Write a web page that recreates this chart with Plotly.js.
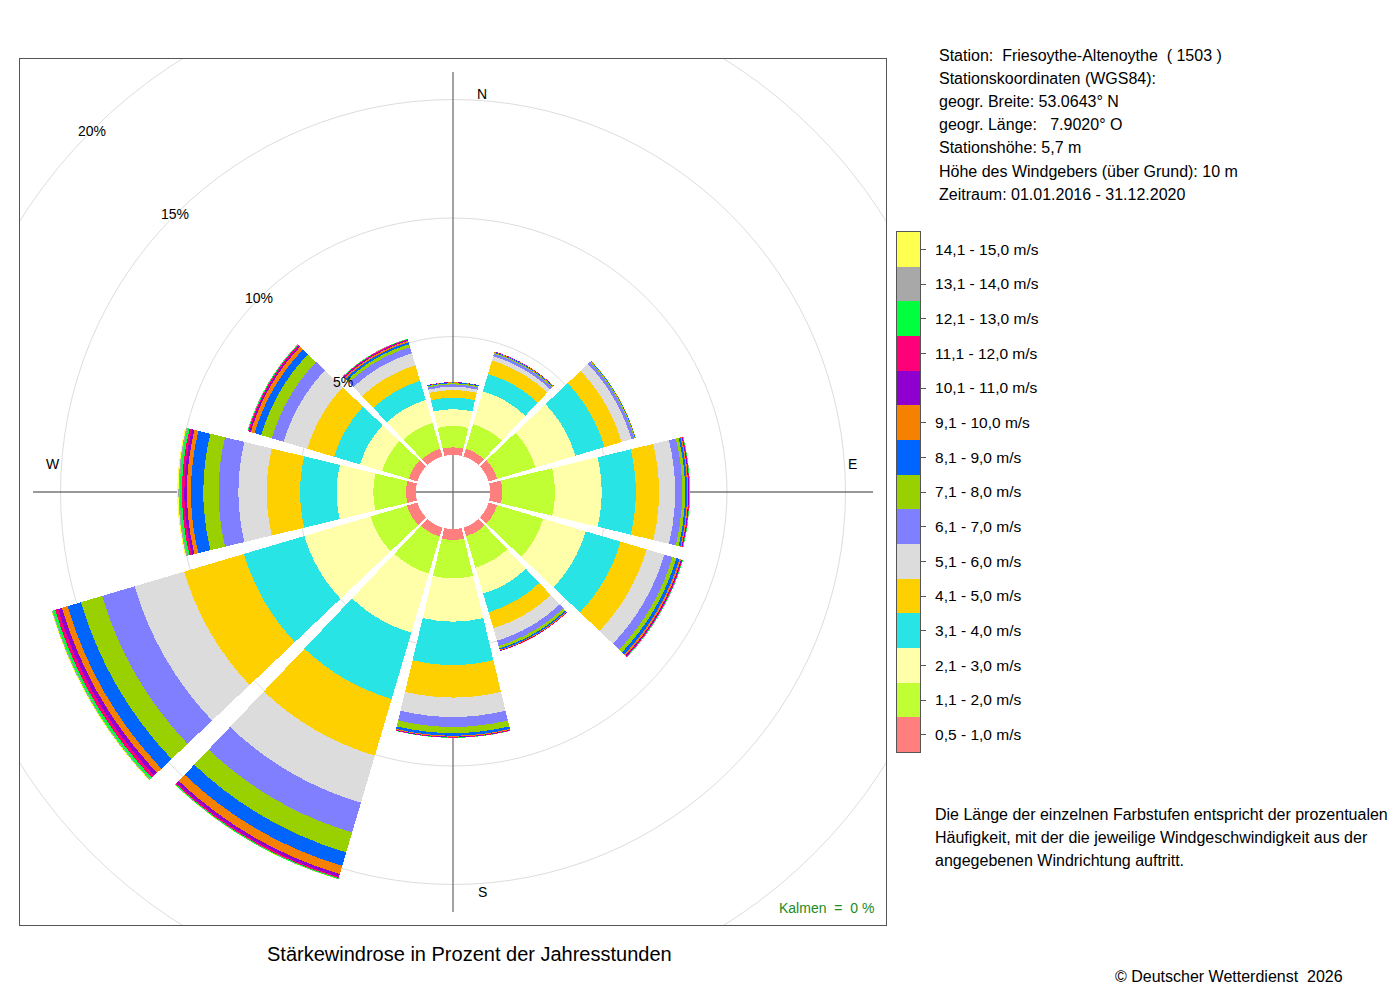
<!DOCTYPE html>
<html>
<head>
<meta charset="utf-8">
<script src="https://cdn.plot.ly/plotly-3.0.1.min.js"></script>
<style>
html,body{margin:0;padding:0;background:#ffffff;}
#chart{width:1400px;height:1000px;}
</style>
</head>
<body>
<div id="chart"></div>
<script>
// ---------------- DATA ----------------
const directions = ['N','NNO','ONO','O','OSO','SSO','S','SSW','WSW','W','WNW','NNW'];
const dirAngles  = [0,30,60,90,120,150,180,210,240,270,300,330];

const speedClasses = [
  '0,5 - 1,0 m/s','1,1 - 2,0 m/s','2,1 - 3,0 m/s','3,1 - 4,0 m/s','4,1 - 5,0 m/s',
  '5,1 - 6,0 m/s','6,1 - 7,0 m/s','7,1 - 8,0 m/s','8,1 - 9,0 m/s','9,1 - 10,0 m/s',
  '10,1 - 11,0 m/s','11,1 - 12,0 m/s','12,1 - 13,0 m/s','13,1 - 14,0 m/s','14,1 - 15,0 m/s'
];
const classColors = [
  '#FF7F7F','#BFFF33','#FFFFAA','#29E4E4','#FFD000',
  '#DCDCDC','#7F7FFF','#99D000','#0064FF','#F68000',
  '#8F00D0','#FF0078','#00FF3C','#A8A8A8','#FFFF50'
];

// percent of year hours per speed class (innermost first), one array per direction
const vN   = [0.32,0.90,0.71,0.49,0.32,0.14,0.10,0.05,0.03,0.01,0.01,0.00,0.00,0.00,0.00];
const vNNO = [0.34,1.09,1.44,0.76,0.59,0.19,0.11,0.04,0.02,0.02,0.01,0.01,0.00,0.00,0.00];
const vONO = [0.38,1.69,1.75,1.29,0.75,0.43,0.12,0.04,0.02,0.01,0.00,0.00,0.00,0.00,0.00];
const vO   = [0.52,2.22,1.97,1.44,0.98,0.68,0.30,0.12,0.08,0.05,0.03,0.02,0.02,0.01,0.00];
const vOSO = [0.38,2.03,1.87,1.54,1.14,0.78,0.36,0.17,0.13,0.07,0.04,0.03,0.02,0.01,0.00];
const vSSO = [0.38,1.39,1.14,0.82,0.70,0.55,0.23,0.11,0.06,0.03,0.02,0.01,0.00,0.00,0.00];
const vS   = [0.46,1.62,1.83,1.83,1.37,0.82,0.42,0.26,0.11,0.04,0.02,0.02,0.01,0.00,0.00];
const vSSW = [0.40,1.63,2.60,2.92,2.49,2.07,1.31,0.88,0.59,0.36,0.12,0.06,0.04,0.01,0.01];
const vWSW = [0.46,1.61,2.91,2.66,2.63,2.18,1.43,0.93,0.59,0.25,0.17,0.13,0.10,0.04,0.03];
const vW   = [0.42,1.38,1.55,1.54,1.41,1.19,0.84,0.64,0.52,0.17,0.11,0.10,0.09,0.06,0.05];
const vWNW = [0.38,1.18,0.97,1.14,1.18,1.04,0.52,0.47,0.29,0.17,0.06,0.05,0.03,0.01,0.00];
const vNNW = [0.34,1.14,1.01,0.84,0.68,0.53,0.27,0.13,0.09,0.06,0.04,0.03,0.02,0.01,0.00];
const dirValues = [vN,vNNO,vONO,vO,vOSO,vSSO,vS,vSSW,vWSW,vW,vWNW,vNNW];

const ringValues = [5,10,15,20];
const ringLabels = ['5%','10%','15%','20%'];
const compassLabels = ['N','E','S','W'];

const infoLines = [
  'Station:\u00A0\u00A0Friesoythe-Altenoythe\u00A0\u00A0( 1503 )',
  'Stationskoordinaten (WGS84):',
  'geogr. Breite: 53.0643° N',
  'geogr. Länge:\u00A0\u00A0\u00A07.9020° O',
  'Stationshöhe: 5,7 m',
  'Höhe des Windgebers (über Grund): 10 m',
  'Zeitraum: 01.01.2016 - 31.12.2020'
];
const noteLines = [
  'Die Länge der einzelnen Farbstufen entspricht der prozentualen',
  'Häufigkeit, mit der die jeweilige Windgeschwindigkeit aus der',
  'angegebenen Windrichtung auftritt.'
];
const titleText = 'Stärkewindrose in Prozent der Jahresstunden';
const calmText = 'Kalmen\u00A0\u00A0=\u00A0\u00A00 %';
const creditText = '© Deutscher Wetterdienst\u00A0\u00A02026';

// ---------------- LAYOUT GEOMETRY ----------------
const W = 1400, H = 1000;
const FRAME = {x0:20, x1:886, y0:59, y1:925};
const HALF = (FRAME.x1 - FRAME.x0) / 2;   // px from centre to frame edge
const HOLE_PX = 37;
const R_MAX = 16.71;
const pxPerPct = (HALF - HOLE_PX) / R_MAX;
const rpx = v => HOLE_PX + v * pxPerPct;
const CROSS_PX = 420;
const FONT = 'Liberation Sans, Arial, Helvetica, sans-serif';

// ---------------- TRACES ----------------
const traces = speedClasses.map((name, k) => ({
  type: 'barpolar',
  subplot: 'polar',
  name: name,
  r: dirValues.map(d => d[k]),
  theta: dirAngles,
  width: 27,
  marker: {color: classColors[k], line: {width: 0}},
  hoverinfo: 'skip',
  showlegend: false
}));

// invisible anchor so the cartesian frame subplot exists
traces.push({type:'scatter', x:[0], y:[0], xaxis:'x', yaxis:'y', mode:'markers',
  marker:{opacity:0}, hoverinfo:'skip', showlegend:false});

// colour key
traces.push({
  type:'bar', orientation:'h', xaxis:'x2', yaxis:'y2',
  y: speedClasses, x: speedClasses.map(() => 1), width: 1,
  marker:{color: classColors, line:{width:0}},
  hoverinfo:'skip', showlegend:false
});

// ---------------- SHAPES / ANNOTATIONS ----------------
const shapes = [];
ringValues.forEach(v => {
  const r = rpx(v);
  shapes.push({type:'circle', xref:'x', yref:'y', x0:-r, x1:r, y0:-r, y1:r,
    line:{color:'#DDDDDD', width:1}, layer:'below'});
});
shapes.push({type:'line', xref:'x', yref:'y', x0:-CROSS_PX, x1:CROSS_PX, y0:0, y1:0,
  line:{color:'#333333', width:1}, layer:'below'});
shapes.push({type:'line', xref:'x', yref:'y', x0:0, x1:0, y0:-CROSS_PX, y1:CROSS_PX,
  line:{color:'#666666', width:1.2}, layer:'below'});

const annotations = [];
ringValues.forEach((v, i) => {
  const d = rpx(v) * Math.SQRT1_2;
  annotations.push({xref:'x', yref:'y', x:-d, y:d, text:ringLabels[i], showarrow:false,
    font:{family:FONT, size:14, color:'#000'}, xanchor:'center', yanchor:'middle'});
});
const compassPos = [[29, 398], [399, 28], [29, -400], [-400, 28]];
compassLabels.forEach((t, i) => {
  annotations.push({xref:'x', yref:'y', x:compassPos[i][0], y:compassPos[i][1], text:t,
    showarrow:false, font:{family:FONT, size:14, color:'#000'}, xanchor:'center', yanchor:'middle'});
});
annotations.push({xref:'paper', yref:'paper', x:876/W, y:1-908/H, text:calmText, showarrow:false,
  font:{family:FONT, size:14, color:'#228B22'}, xanchor:'right', yanchor:'middle'});
annotations.push({xref:'paper', yref:'paper', x:470/W, y:1-954/H, text:titleText, showarrow:false,
  font:{family:FONT, size:20, color:'#000'}, xanchor:'center', yanchor:'middle'});
infoLines.forEach((t, i) => {
  annotations.push({xref:'paper', yref:'paper', x:937/W, y:1-(55 + i*23.2)/H, text:t, showarrow:false,
    font:{family:FONT, size:16, color:'#000'}, xanchor:'left', yanchor:'middle'});
});
noteLines.forEach((t, i) => {
  annotations.push({xref:'paper', yref:'paper', x:933/W, y:1-(814 + i*23)/H, text:t, showarrow:false,
    font:{family:FONT, size:16, color:'#000'}, xanchor:'left', yanchor:'middle'});
});
annotations.push({xref:'paper', yref:'paper', x:1113/W, y:1-976/H, text:creditText, showarrow:false,
  font:{family:FONT, size:16, color:'#000'}, xanchor:'left', yanchor:'middle'});

const frameAxis = {
  range:[-HALF, HALF], showgrid:false, zeroline:false, showticklabels:false, ticks:'',
  showline:true, mirror:true, linecolor:'#555555', linewidth:1, fixedrange:true
};

const layout = {
  width: W, height: H,
  margin:{l:0, r:0, t:0, b:0},
  paper_bgcolor:'#ffffff', plot_bgcolor:'rgba(0,0,0,0)',
  font:{family:FONT, color:'#000'},
  showlegend:false,
  bargap:0,
  xaxis: Object.assign({domain:[FRAME.x0/W, FRAME.x1/W], anchor:'y'}, frameAxis),
  yaxis: Object.assign({domain:[1-FRAME.y1/H, 1-FRAME.y0/H], anchor:'x'}, frameAxis),
  xaxis2:{domain:[897/W, 920/W], anchor:'y2', range:[0,1], showgrid:false, zeroline:false,
    showticklabels:false, ticks:'', showline:true, mirror:true, linecolor:'#555555', linewidth:1, fixedrange:true},
  yaxis2:{domain:[1-752/H, 1-232/H], anchor:'x2', side:'right', type:'category', range:[-0.5, 14.5],
    showgrid:false, zeroline:false, ticks:'outside', ticklen:5, tickcolor:'#555555',
    showline:true, mirror:true, linecolor:'#555555', linewidth:1, ticklabelstandoff:6,
    tickfont:{family:FONT, size:15.5, color:'#000'}, fixedrange:true},
  polar:{
    domain:{x:[FRAME.x0/W, FRAME.x1/W], y:[1-FRAME.y1/H, 1-FRAME.y0/H]},
    hole: HOLE_PX / HALF,
    bgcolor:'rgba(0,0,0,0)',
    barmode:'stack',
    radialaxis:{range:[0, R_MAX], showgrid:false, showline:false, showticklabels:false, ticks:''},
    angularaxis:{direction:'clockwise', rotation:90, showgrid:false, showline:false,
      showticklabels:false, ticks:''}
  },
  shapes: shapes,
  annotations: annotations
};

Plotly.newPlot('chart', traces, layout, {staticPlot:true, displayModeBar:false});
</script>
</body>
</html>
